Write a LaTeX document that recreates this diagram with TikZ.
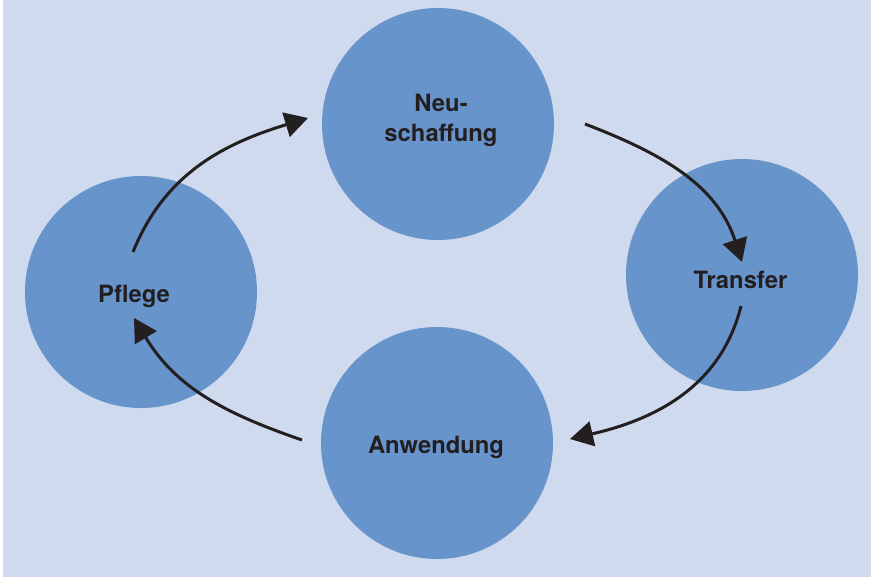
\documentclass[tikz,border=0pt]{standalone}
\usepackage{fontspec}
\setmainfont{TeX Gyre Heros}
\usetikzlibrary{arrows.meta}
\definecolor{bgblue}{HTML}{CFDAEE}
\definecolor{circblue}{HTML}{6794CB}
\definecolor{inkdark}{HTML}{231F20}
\tikzset{
  phase/.style={circle, fill=circblue, minimum size=116pt, inner sep=0pt},
  lbl/.style={font=\fontsize{11.9pt}{15pt}\selectfont\bfseries, text=inkdark, anchor=base, inner sep=0pt, align=center},
  flow/.style={draw=inkdark, line width=1.5pt, -{Triangle[length=11.5pt,width=12.5pt]}}
}
\begin{document}
\begin{tikzpicture}[x=0.5pt,y=0.5pt]
\useasboundingbox (0,0) rectangle (871,-577);
\fill[white] (0,0) rectangle (871,-577);
\fill[bgblue] (3,0) rectangle (871,-577);
\node[phase] (neu) at (438,-124) {};
\node[phase] (transfer) at (742,-275) {};
\node[phase] (pflege) at (141,-292) {};
\node[phase] (anw) at (437,-443) {};
\node[lbl] (neuT1) at (441,-112) {Neu-};
\node[lbl] (neuT2) at (441,-142) {schaffung};
\node[lbl] (transferT) at (740.5,-288) {Transfer};
\node[lbl] (pflegeT) at (134,-302) {Pflege};
\node[lbl] (anwT) at (436,-453) {Anwendung};
\coordinate (a1s) at (133,-252);
\coordinate (a1e) at (308,-118);
\coordinate (a2s) at (585,-124);
\coordinate (a2e) at (742,-262);
\coordinate (a3s) at (741,-306);
\coordinate (a3e) at (570,-439);
\coordinate (a4s) at (302,-440);
\coordinate (a4e) at (134,-318);
\draw[flow] (a1s) to[out=68,in=197] (a1e);
\draw[flow] (a2s) to[out=-21,in=108] (a2e);
\draw[flow] (a3s) to[out=-104,in=13] (a3e);
\draw[flow] (a4s) to[out=161,in=-59] (a4e);
\end{tikzpicture}
\end{document}
